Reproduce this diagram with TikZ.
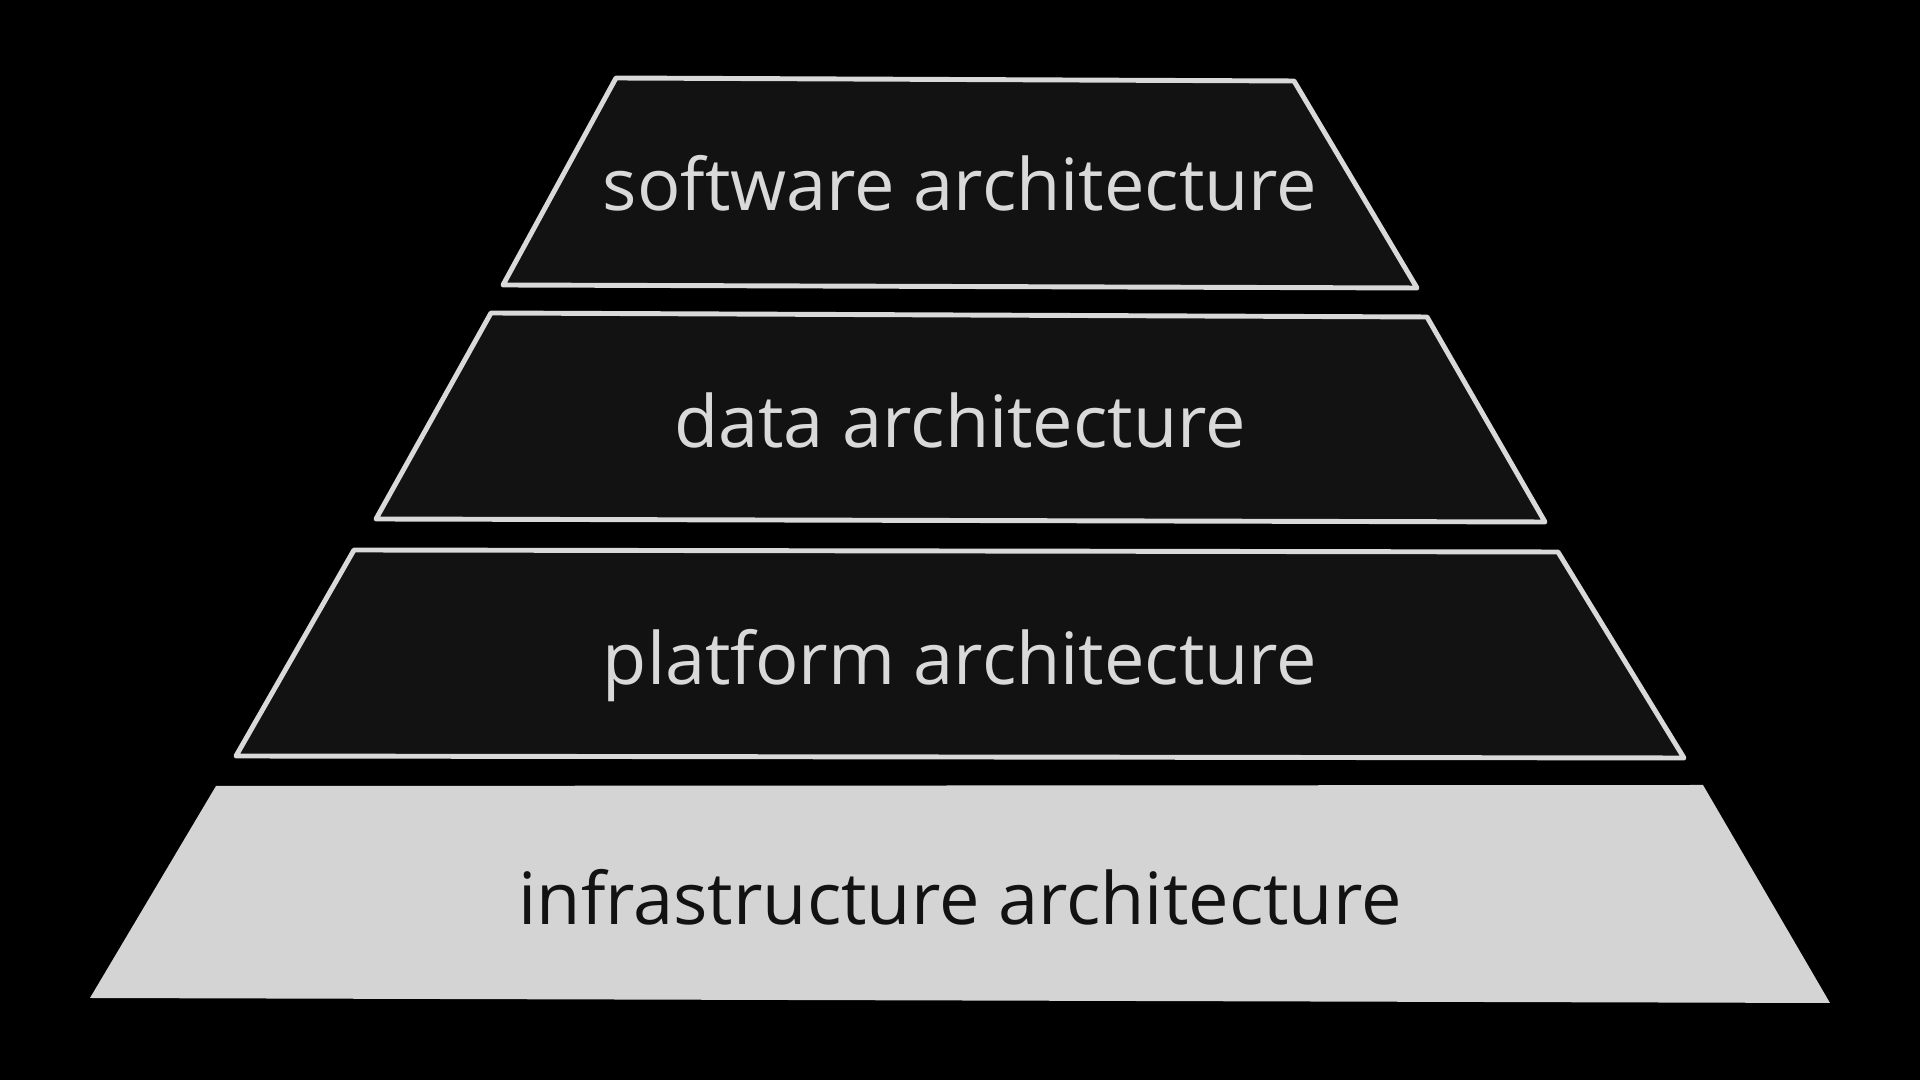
\documentclass[tikz,border=0pt]{standalone}
\usepackage{fontspec}
\setmainfont{Open Sans}
\usepackage{xcolor}
\definecolor{layerdark}{HTML}{121212}
\definecolor{layerline}{HTML}{D9D9D9}
\definecolor{layerlight}{HTML}{D4D4D4}

\begin{document}
\begin{tikzpicture}[x=0.01cm,y=-0.01cm,
        layer/.style={draw=layerline,fill=layerdark,line width=1.4pt,line join=round},
        baselayer/.style={fill=layerlight,line join=round},
        layertext/.style={font=\fontsize{20.5}{25}\selectfont,text=layerline},
        basetext/.style={font=\fontsize{20.5}{25}\selectfont,text=layerdark}]
        % Background
        \fill[black] (0,0) rectangle (1920,1080);
        % Layers
        \draw[layer] (616,78) -- (1294,81) -- (1417,288) -- (503,285) -- cycle;
        \draw[layer] (491,313) -- (1427,317) -- (1545,522) -- (376,519) -- cycle;
        \draw[layer] (354,550) -- (1558,552) -- (1684,758) -- (236,756) -- cycle;
        \fill[baselayer] (216,786) -- (1703,785) -- (1830,1003) -- (90,998) -- cycle;
        % Labels
        \node[layertext] (software) at (960,183) {software architecture};
        \node[layertext] (data) at (960,420) {data architecture};
        \node[layertext] (platform) at (960,666) {platform architecture};
        \node[basetext] (infra) at (960,897) {infrastructure architecture};
\end{tikzpicture}
\end{document}
